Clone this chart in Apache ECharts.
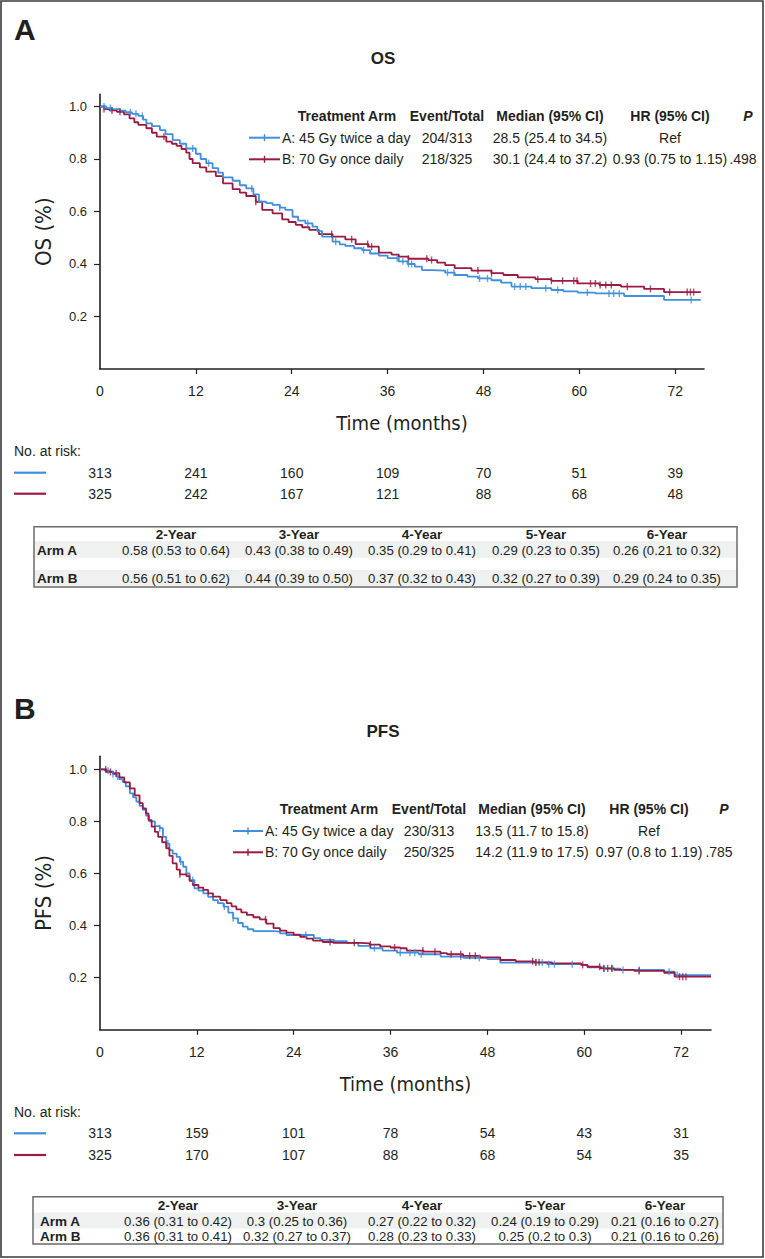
<!DOCTYPE html>
<html><head><meta charset="utf-8">
<script src="https://cdn.jsdelivr.net/npm/echarts@6/dist/echarts.min.js"></script>
<style>html,body{margin:0;padding:0;background:#fff}#c{width:765px;height:1259px}</style>
</head><body><div id="c"></div>
<script>
// ---------- DATA ----------
const xTickValues = [0, 12, 24, 36, 48, 60, 72];
const yTickValues = [0.2, 0.4, 0.6, 0.8, 1.0];

// OS Kaplan-Meier step points [month, survival]
const osArmA = [[0,1],[0.8,0.994],[1.5,0.99],[2.5,0.984],[3.2,0.978],[4.0,0.972],[4.8,0.964],[5.4,0.95],[5.8,0.936],[6.5,0.925],[7.5,0.91],[8.2,0.895],[9.1,0.872],[10.0,0.858],[10.8,0.84],[12.0,0.82],[12.6,0.80],[13.3,0.784],[14.1,0.765],[14.8,0.748],[15.4,0.73],[16.6,0.717],[17.5,0.70],[18.3,0.688],[19.2,0.665],[19.9,0.637],[20.8,0.632],[21.6,0.625],[22.5,0.615],[23.2,0.606],[24.1,0.58],[24.8,0.565],[25.7,0.555],[26.6,0.542],[27.2,0.525],[27.8,0.504],[29.1,0.485],[30.0,0.475],[30.7,0.469],[31.8,0.46],[32.8,0.453],[33.8,0.44],[34.9,0.432],[36.0,0.422],[37.4,0.41],[38.5,0.40],[39.4,0.39],[40.3,0.377],[41.5,0.375],[43.2,0.367],[44.4,0.358],[46.0,0.352],[47.3,0.345],[49.0,0.338],[50.2,0.329],[51.5,0.314],[54.0,0.308],[56.5,0.301],[58.0,0.296],[59.8,0.291],[62.0,0.288],[65.6,0.278],[70.6,0.263],[75.2,0.263]];
const osArmB = [[0,1],[0.5,0.99],[1.2,0.985],[2.1,0.98],[3.0,0.97],[3.7,0.955],[4.3,0.94],[4.8,0.93],[5.8,0.917],[6.5,0.90],[7.1,0.885],[8.3,0.866],[9.0,0.858],[9.6,0.85],[10.2,0.838],[10.8,0.824],[11.2,0.80],[11.6,0.784],[12.5,0.768],[13.3,0.752],[14.5,0.735],[15.4,0.707],[16.6,0.685],[17.5,0.672],[18.3,0.659],[19.5,0.637],[20.3,0.606],[21.6,0.593],[22.8,0.57],[23.6,0.56],[24.5,0.549],[25.3,0.54],[26.2,0.53],[27.4,0.514],[29.1,0.504],[30.7,0.494],[32.0,0.476],[33.6,0.466],[34.9,0.443],[36.5,0.436],[37.4,0.428],[38.6,0.42],[41.1,0.415],[42.2,0.405],[43.2,0.396],[44.4,0.384],[46.5,0.375],[49.0,0.365],[50.5,0.358],[52.3,0.349],[54.5,0.342],[56.5,0.336],[59.8,0.326],[62.5,0.32],[65.2,0.314],[68.1,0.305],[70.6,0.293],[75.2,0.293]];
const osCensorA = [0.5,1.3,3.8,4.5,5.3,11.6,13.6,19.0,22.5,26.0,29.5,33.0,37.2,37.9,38.6,39.0,43.5,44.3,47.5,48.5,51.9,52.6,53.3,55.8,57.3,61.0,63.7,64.3,65.0,74.0];
const osCensorB = [0.5,1.5,2.5,8.0,19.5,29.0,31.5,33.5,34.0,38.6,40.9,41.5,47.3,49.0,54.8,56.5,57.9,59.3,59.7,61.4,62.0,62.6,63.3,64.0,66.0,68.9,71.3,73.5,73.9,74.3];

// PFS Kaplan-Meier step points [month, survival]
const pfsArmA = [[0,1],[0.6,0.995],[1.2,0.991],[1.6,0.982],[2.0,0.972],[2.4,0.962],[2.8,0.952],[3.2,0.935],[3.7,0.908],[4.1,0.892],[4.5,0.876],[4.9,0.86],[5.3,0.844],[5.7,0.822],[6.1,0.80],[6.8,0.782],[7.4,0.774],[7.8,0.741],[8.2,0.715],[8.6,0.69],[9.0,0.676],[9.5,0.664],[9.9,0.645],[10.3,0.626],[10.7,0.60],[11.1,0.575],[11.7,0.543],[12.2,0.534],[12.8,0.524],[13.4,0.51],[14.0,0.498],[14.6,0.486],[15.3,0.473],[15.9,0.45],[16.5,0.428],[17.1,0.41],[17.7,0.396],[18.3,0.386],[19.0,0.379],[21.5,0.377],[22.3,0.37],[23.1,0.364],[25.6,0.364],[26.5,0.352],[27.3,0.345],[29.0,0.34],[30.6,0.334],[32.0,0.322],[33.5,0.313],[35.0,0.304],[36.8,0.296],[39.5,0.29],[42.2,0.281],[45.0,0.276],[48.0,0.271],[49.6,0.258],[55.4,0.252],[59.6,0.249],[60.4,0.24],[62.5,0.235],[64.5,0.23],[69.9,0.223],[71.2,0.21],[75.7,0.21]];
const pfsArmB = [[0,1],[0.8,0.99],[1.6,0.985],[2.4,0.969],[3.0,0.95],[3.7,0.927],[4.3,0.90],[4.9,0.87],[5.3,0.85],[5.7,0.831],[6.0,0.805],[6.4,0.78],[6.8,0.76],[7.2,0.741],[7.7,0.72],[8.2,0.697],[8.6,0.668],[9.0,0.639],[9.5,0.615],[9.9,0.597],[10.7,0.59],[11.1,0.572],[11.5,0.556],[12.2,0.546],[12.8,0.537],[13.4,0.524],[14.0,0.511],[14.9,0.498],[15.7,0.486],[16.3,0.474],[16.9,0.462],[17.5,0.451],[18.2,0.441],[19.0,0.432],[19.8,0.424],[20.6,0.408],[21.5,0.39],[22.3,0.381],[23.1,0.373],[24.0,0.365],[24.8,0.357],[25.6,0.35],[26.4,0.342],[27.6,0.337],[28.9,0.334],[32.2,0.332],[33.4,0.327],[34.7,0.32],[36.0,0.316],[37.2,0.313],[38.0,0.304],[40.1,0.30],[42.2,0.294],[43.0,0.29],[45.0,0.284],[47.1,0.278],[49.6,0.268],[51.5,0.263],[53.8,0.259],[56.0,0.255],[59.6,0.249],[60.4,0.242],[62.0,0.236],[63.7,0.23],[66.2,0.226],[69.9,0.219],[71.2,0.204],[75.7,0.204]];
const pfsCensorA = [1.0,1.6,2.2,7.4,8.4,10.0,11.5,15.4,16.5,25.5,34.0,37.2,38.4,39.0,39.8,44.7,47.0,54.0,54.8,55.6,56.3,58.5,62.5,63.5,64.8,66.8,70.5,71.5];
const pfsCensorB = [0.7,1.3,2.0,9.9,20.5,28.5,31.5,33.5,36.5,40.0,41.5,43.5,44.7,45.8,46.5,53.6,54.0,54.4,59.8,61.9,62.4,62.9,63.4,66.8,71.8,72.2,72.6];

// Numbers at risk
const osRiskA = [313,241,160,109,70,51,39];
const osRiskB = [325,242,167,121,88,68,48];
const pfsRiskA = [313,159,101,78,54,43,31];
const pfsRiskB = [325,170,107,88,68,54,35];

// Legend tables
const legendHeaders = ['Treatment Arm','Event/Total','Median (95% CI)','HR (95% CI)','P'];
const armNames = ['A: 45 Gy twice a day','B: 70 Gy once daily'];
const osLegendA = ['204/313','28.5 (25.4 to 34.5)','Ref',''];
const osLegendB = ['218/325','30.1 (24.4 to 37.2)','0.93 (0.75 to 1.15)','.498'];
const pfsLegendA = ['230/313','13.5 (11.7 to 15.8)','Ref',''];
const pfsLegendB = ['250/325','14.2 (11.9 to 17.5)','0.97 (0.8 to 1.19)','.785'];

// Landmark tables
const yearCols = ['2-Year','3-Year','4-Year','5-Year','6-Year'];
const rowLabels = ['Arm A','Arm B'];
const osYearA = ['0.58 (0.53 to 0.64)','0.43 (0.38 to 0.49)','0.35 (0.29 to 0.41)','0.29 (0.23 to 0.35)','0.26 (0.21 to 0.32)'];
const osYearB = ['0.56 (0.51 to 0.62)','0.44 (0.39 to 0.50)','0.37 (0.32 to 0.43)','0.32 (0.27 to 0.39)','0.29 (0.24 to 0.35)'];
const pfsYearA = ['0.36 (0.31 to 0.42)','0.3 (0.25 to 0.36)','0.27 (0.22 to 0.32)','0.24 (0.19 to 0.29)','0.21 (0.16 to 0.27)'];
const pfsYearB = ['0.36 (0.31 to 0.41)','0.32 (0.27 to 0.37)','0.28 (0.23 to 0.33)','0.25 (0.2 to 0.3)','0.21 (0.16 to 0.26)'];

// ---------- STYLE ----------
const BLUE = '#3f8fdc', RED = '#9b1a42', AX = '#231f20';
const REG = '"Liberation Sans", Arial, sans-serif';
const NAR = '"DejaVu Sans Condensed", "DejaVu Sans", sans-serif';

function stepAt(curve, t) {
  let v = curve[0][1];
  for (const p of curve) { if (p[0] <= t) v = p[1]; else break; }
  return v;
}
function censorPts(curve, times) { return times.map(t => [t, stepAt(curve, t)]); }

const chart = echarts.init(document.getElementById('c'), null, {renderer: 'svg', width: 765, height: 1259});

function xAxisDef(grid, max, name) {
  return {
    type: 'value', gridIndex: grid, min: 0, max: max,
    name: name, nameLocation: 'middle', nameGap: 44,
    nameTextStyle: {fontFamily: NAR, fontSize: 20, color: AX},
    axisLine: {show: true, lineStyle: {color: AX, width: 1.6}},
    axisTick: {show: true, length: 5, lineStyle: {color: AX, width: 1.2}, customValues: xTickValues.slice(1)},
    axisLabel: {customValues: xTickValues, fontFamily: REG, fontSize: 14, color: AX, margin: 15},
    splitLine: {show: false}
  };
}
function yAxisDef(grid, max, name) {
  return {
    type: 'value', gridIndex: grid, min: 0, max: max,
    name: name, nameLocation: 'middle', nameGap: 46, nameRotate: 90,
    nameTextStyle: {fontFamily: NAR, fontSize: 22, color: AX},
    axisLine: {show: true, lineStyle: {color: AX, width: 1.6}},
    axisTick: {show: true, length: 6, lineStyle: {color: AX, width: 1.2}, customValues: yTickValues},
    axisLabel: {customValues: yTickValues, fontFamily: REG, fontSize: 13, color: AX, margin: 13,
      formatter: v => v.toFixed(1)},
    splitLine: {show: false}
  };
}
function kmLine(data, color, idx) {
  return {type: 'line', data: data, step: 'end', xAxisIndex: idx, yAxisIndex: idx,
    showSymbol: false, symbol: 'none', lineStyle: {color: color, width: 1.8}, z: 3, silent: true};
}
function censor(data, color, idx) {
  return {type: 'scatter', data: data, xAxisIndex: idx, yAxisIndex: idx,
    symbol: 'rect', symbolSize: [1.4, 7], itemStyle: {color: color}, z: 4, silent: true};
}

chart.setOption({
  animation: false,
  backgroundColor: '#fff',
  grid: [
    {left: 100, top: 94.4, width: 604, height: 274.6},
    {left: 100, top: 756.3, width: 611, height: 273.5}
  ],
  xAxis: [xAxisDef(0, 75.6, 'Time (months)'), xAxisDef(1, 75.7, 'Time (months)')],
  yAxis: [yAxisDef(0, 1.046, 'OS (%)'), yAxisDef(1, 1.05, 'PFS (%)')],
  series: [
    kmLine(osArmB, RED, 0), kmLine(osArmA, BLUE, 0),
    censor(censorPts(osArmB, osCensorB), RED, 0), censor(censorPts(osArmA, osCensorA), BLUE, 0),
    kmLine(pfsArmA, BLUE, 1), kmLine(pfsArmB, RED, 1),
    censor(censorPts(pfsArmA, pfsCensorA), BLUE, 1), censor(censorPts(pfsArmB, pfsCensorB), RED, 1)
  ]
});

// ---------- ANNOTATIONS ----------
const G = [];
function txt(s, x, y, o) {
  o = o || {};
  G.push({type: 'text', silent: true, z: 10, style: {
    text: s, x: x, y: y, align: o.align || 'center', verticalAlign: 'middle',
    fontFamily: o.font || REG, fontSize: o.size || 14, fontWeight: o.bold ? 'bold' : 'normal',
    fontStyle: o.italic ? 'italic' : 'normal', fill: o.color || AX}});
}
function line(x1, y1, x2, y2, color, w) {
  G.push({type: 'line', silent: true, z: 10, shape: {x1, y1, x2, y2}, style: {stroke: color, lineWidth: w}});
}
function rect(x, y, w, h, fill, stroke, lw) {
  G.push({type: 'rect', silent: true, z: 9, shape: {x, y, width: w, height: h},
    style: {fill: fill || 'none', stroke: stroke || 'none', lineWidth: lw || 0}});
}

// outer frame
rect(1, 1, 762, 1256, 'none', '#3a3a3a', 1.6);

// panel letters & titles
txt('A', 14, 29, {align: 'left', size: 30, bold: true});
txt('OS', 383, 58, {size: 17, bold: true});
txt('B', 14, 708, {align: 'left', size: 30, bold: true});
txt('PFS', 383, 731, {size: 17, bold: true});

// legend tables inside plots
function legendBlock(yH, yR1, yR2, cols, sw, rowA, rowB) {
  txt(legendHeaders[0], cols[0], yH, {bold: true});
  txt(legendHeaders[1], cols[1], yH, {bold: true});
  txt(legendHeaders[2], cols[2], yH, {bold: true});
  txt(legendHeaders[3], cols[3], yH, {bold: true});
  txt(legendHeaders[4], cols[4], yH, {bold: true, italic: true});
  [[yR1, BLUE, armNames[0], rowA], [yR2, RED, armNames[1], rowB]].forEach(r => {
    line(sw[0], r[0], sw[1], r[0], r[1], 2);
    line((sw[0] + sw[1]) / 2, r[0] - 3.5, (sw[0] + sw[1]) / 2, r[0] + 3.5, r[1], 1.4);
    txt(r[2], sw[1] + 2, r[0], {align: 'left'});
    txt(r[3][0], cols[1], r[0]);
    txt(r[3][1], cols[2], r[0]);
    txt(r[3][2], cols[3], r[0]);
    txt(r[3][3], cols[4] - 5, r[0]);
  });
}
legendBlock(116, 137.7, 159.3, [347, 447, 550, 670, 748], [249, 280], osLegendA, osLegendB);
legendBlock(809.3, 831, 852.3, [329, 429, 532, 649, 724], [233, 263], pfsLegendA, pfsLegendB);

// numbers at risk
function riskBlock(idx, yLabel, y1, y2, rA, rB) {
  txt('No. at risk:', 14, yLabel, {align: 'left', size: 14});
  line(14, y1, 46, y1, BLUE, 2.2);
  line(14, y2, 46, y2, RED, 2.2);
  xTickValues.forEach((t, i) => {
    const px = chart.convertToPixel({xAxisIndex: idx}, t);
    txt(String(rA[i]), px, y1, {size: 14});
    txt(String(rB[i]), px, y2, {size: 14});
  });
}
riskBlock(0, 451, 472.7, 493.7, osRiskA, osRiskB);
riskBlock(1, 1112, 1133.3, 1155, pfsRiskA, pfsRiskB);

// landmark tables
function yearTable(box, yH, yA, yB, bandA, bandB, cols, labelX, vA, vB) {
  if (bandA) rect(box[0], bandA[0], box[2], bandA[1] - bandA[0], '#eef1ef');
  if (bandB) rect(box[0], bandB[0], box[2], bandB[1] - bandB[0], '#eef1ef');
  rect(box[0], box[1], box[2], box[3], 'none', '#6b6b6b', 1.5);
  yearCols.forEach((c, i) => txt(c, cols[i], yH, {size: 13.5, bold: true}));
  txt(rowLabels[0], labelX, yA, {align: 'left', size: 13.5, bold: true});
  txt(rowLabels[1], labelX, yB, {align: 'left', size: 13.5, bold: true});
  vA.forEach((v, i) => txt(v, cols[i], yA, {size: 13.2}));
  vB.forEach((v, i) => txt(v, cols[i], yB, {size: 13.2}));
}
yearTable([34, 526.7, 703, 60.3], 534, 550, 578.5, [541, 557.7], [570, 585.7],
  [176, 299, 422, 546, 667], 37, osYearA, osYearB);
yearTable([33, 1196.7, 690, 47.3], 1205, 1221.7, 1236.7, [1212.5, 1228.5], null,
  [178, 297, 422, 545, 665], 40, pfsYearA, pfsYearB);

chart.setOption({graphic: {elements: G}});
</script>
</body></html>
